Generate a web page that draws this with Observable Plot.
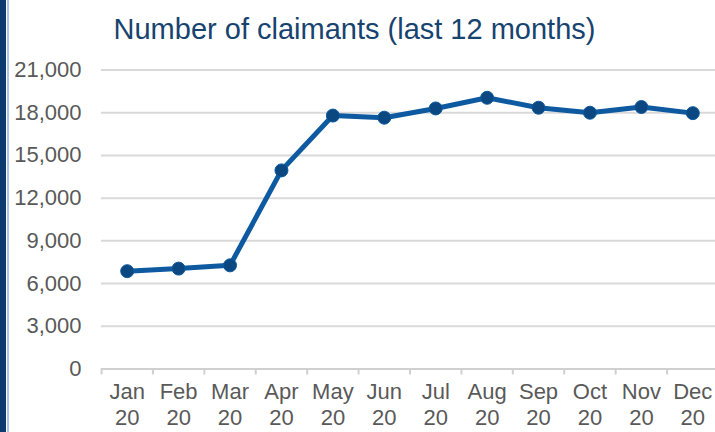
<!DOCTYPE html>
<html><head><meta charset="utf-8">
<script src="https://cdn.jsdelivr.net/npm/d3@7"></script>
<script src="https://cdn.jsdelivr.net/npm/@observablehq/plot@0.6"></script>
<style>
body{margin:0;background:#fff;}
#wrap{position:relative;width:715px;height:432px;overflow:hidden;font-family:"Liberation Sans",Arial,sans-serif;background:#fff;}
#bar1{position:absolute;left:0;top:0;width:6px;height:432px;background:#0d3b6e;}
#bar2{position:absolute;left:7px;top:0;width:2px;height:432px;background:#a9c4e4;}
#title{position:absolute;top:15px;left:-3px;width:715px;text-align:center;font-size:29px;line-height:29px;color:#17436f;white-space:nowrap;}
#chart{position:absolute;top:50px;left:0;}
</style></head>
<body>
<div id="wrap">
  <div id="bar1"></div><div id="bar2"></div>
  <div id="title">Number of claimants (last 12 months)</div>
  <div id="chart"></div>
</div>
<script>
const months = ["Jan","Feb","Mar","Apr","May","Jun","Jul","Aug","Sep","Oct","Nov","Dec"];
const years = ["20","20","20","20","20","20","20","20","20","20","20","20"];
const claimants = [6870, 7050, 7280, 13950, 17800, 17650, 18300, 19050, 18350, 18000, 18400, 17970];
const yTicks = [0, 3000, 6000, 9000, 12000, 15000, 18000, 21000];

const data = months.map((m, i) => ({month: m, year: years[i], pos: i + 0.5, value: claimants[i]}));
const boundaries = d3.range(months.length + 1);
const fmt = d3.format(",");

const chart = Plot.plot({
  width: 715, height: 382,
  marginLeft: 101, marginRight: -3, marginTop: 19.5, marginBottom: 63.5,
  style: {fontFamily: "Liberation Sans, Arial, sans-serif", fontSize: "22px", color: "#595959", background: "transparent", overflow: "visible"},
  x: {type: "linear", domain: [0, months.length], axis: null},
  y: {domain: [0, 21000], axis: null},
  marks: [
    Plot.gridY(yTicks, {stroke: "#d9d9d9", strokeOpacity: 1, strokeWidth: 2}),
    Plot.axisY(yTicks, {label: null, tickSize: 0, tickPadding: 20, tickFormat: d => fmt(d), fontSize: 22, fill: "#595959"}),
    Plot.ruleY([0], {stroke: "#d0d0d0", strokeWidth: 2}),
    Plot.axisX(boundaries, {label: null, tickSize: 6, tickFormat: () => "", stroke: "#d0d0d0", strokeWidth: 2, strokeOpacity: 1}),
    Plot.axisX(data.map(d => d.pos), {label: null, tickSize: 0, tickPadding: 12, lineHeight: 1.17, fontSize: 22, fill: "#595959",
      tickFormat: p => { const d = data.find(e => e.pos === p); return d.month + "\n" + d.year; }}),
    Plot.line(data, {x: "pos", y: "value", stroke: "#0d5aa0", strokeWidth: 5}),
    Plot.dot(data, {x: "pos", y: "value", r: 6.5, fill: "#0b4780", stroke: "#0d5aa0", strokeWidth: 1})
  ]
});
document.getElementById("chart").appendChild(chart);
</script>
</body></html>
